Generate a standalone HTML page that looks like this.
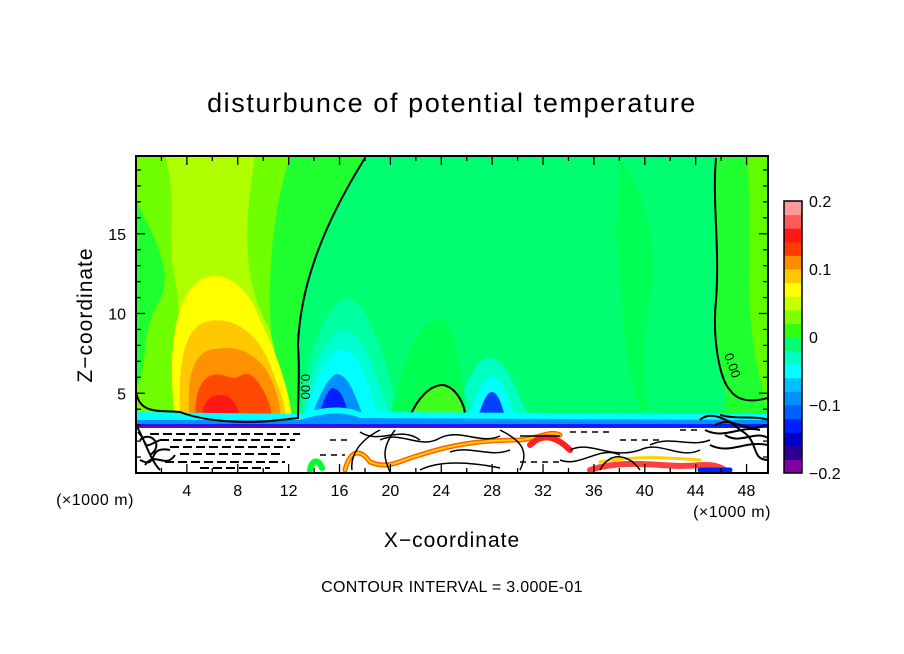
<!DOCTYPE html>
<html><head><meta charset="utf-8"><style>
body{margin:0;background:#fff}
svg{display:block;font-family:"Liberation Sans",sans-serif}
</style></head><body>
<svg id="s" width="904" height="654" xmlns="http://www.w3.org/2000/svg">
<defs><clipPath id="pc"><rect x="136" y="156" width="632" height="317"/></clipPath></defs>
<text x="452" y="112" font-size="27" letter-spacing="1.6" text-anchor="middle">disturbunce of potential temperature</text>
<g clip-path="url(#pc)">
<rect x="136" y="156" width="632" height="317" fill="#00ff70"/>
<path d="M716 156 L768 156 L768 420 L720 420 C735 390 712 360 716 300 C720 250 712 200 716 156Z" fill="#20ff30"/>
<path d="M748 156 L768 156 L768 410 C760 380 745 330 750 250Z" fill="#60ff00"/>
<path d="M620 160 C640 180 660 240 650 300 C645 340 640 380 650 410 L640 410 C620 360 625 300 615 240Z" fill="#00ff55"/>
<path d="M136 156 L365 156 C330 220 300 280 300 340 L298 420 L136 420Z" fill="#20ff30"/>
<path d="M136 156 L290 156 C270 220 262 300 280 420 L136 420 L136 390 C150 360 140 330 160 300 C175 270 150 230 136 200Z" fill="#70ff00"/>
<path d="M165 156 L255 156 C245 220 240 280 270 330 L290 420 L180 420 C170 380 185 330 175 280 C166 240 178 200 165 156Z" fill="#b0ff00"/>
<path d="M175 420 C168 360 172 300 200 280 C225 266 250 290 260 320 C275 350 290 390 292 420Z" fill="#ffff00"/>
<path d="M180 420 C178 370 182 330 205 322 C230 315 255 330 268 360 C278 385 286 405 286 420Z" fill="#ffc800"/>
<path d="M190 420 C186 380 192 355 210 350 C235 345 250 350 265 368 C275 385 282 405 280 420Z" fill="#ff9000"/>
<path d="M196 420 C194 400 198 380 212 375 C225 372 230 382 240 376 C252 368 262 385 270 405 L272 420Z" fill="#ff4800"/>
<path d="M202 420 C202 405 208 395 220 395 C232 395 238 405 240 420Z" fill="#ff1818"/>
<path d="M300 420 C305 360 320 320 340 300 C360 290 380 330 400 420Z" fill="#00ffa0"/>
<path d="M302 420 C310 375 322 340 340 330 C362 325 375 370 392 420Z" fill="#00ffd0"/>
<path d="M305 420 C312 385 325 355 340 350 C360 348 368 385 380 420Z" fill="#00ffff"/>
<path d="M310 420 C318 400 325 380 336 374 C350 374 356 400 365 420Z" fill="#0090ff"/>
<path d="M318 420 C322 405 326 392 332 388 C342 388 346 405 350 420Z" fill="#0020ff"/>
<path d="M455 420 C465 380 478 355 492 358 C508 362 518 395 530 420Z" fill="#00ffc0"/>
<path d="M468 420 C476 396 484 376 492 376 C503 378 509 400 516 420Z" fill="#00ffff"/>
<path d="M477 420 C482 405 486 392 492 392 C498 392 502 405 506 420Z" fill="#0040ff"/>
<path d="M390 420 C400 370 418 318 440 318 C455 320 460 380 470 420Z" fill="#00ff50"/>
<path d="M410 416 C418 398 430 385 443 385 C455 387 465 403 465 416Z" fill="#40ff20" stroke="#000" stroke-width="2"/>
<path d="M136 412 L300 414 C320 408 340 404 360 412 L768 414 L768 430 L136 428Z" fill="#00ffff"/>
<path d="M136 420 L300 420 C320 414 340 410 360 418 L768 420 L768 430 L136 428Z" fill="#0090ff"/>
<path d="M136 424 L768 424 L768 430 L136 428Z" fill="#0020ff"/>
<path d="M136 426 L768 427 L768 430 L136 429Z" fill="#8000a0"/>
<rect x="136" y="428" width="632" height="45" fill="#fff"/>
<g fill="none" stroke-linecap="round">
<path d="M345 470 C350 450 360 448 370 462 C390 470 400 460 420 455 C450 445 480 440 520 440 C540 438 550 430 560 435" stroke="#ff6000" stroke-width="5"/>
<path d="M345 470 C350 450 360 448 370 462 C390 470 400 460 420 455 C450 445 480 440 520 440 C540 438 550 430 560 435" stroke="#ffd000" stroke-width="2"/>
<path d="M530 445 C545 430 560 440 570 450" stroke="#ff2020" stroke-width="6"/>
<path d="M590 470 C620 460 650 465 680 466 C700 466 712 462 725 470" stroke="#ff4040" stroke-width="6"/>
<path d="M600 462 C640 455 670 458 700 460" stroke="#ffd000" stroke-width="3"/>
<path d="M700 470 L730 470" stroke="#0020ff" stroke-width="5"/>
<path d="M310 470 C312 460 318 458 322 468" stroke="#00ff30" stroke-width="6"/>
</g>
<g fill="none" stroke="#000" stroke-width="1.5">
<path d="M136 392 C140 415 160 410 180 412 C200 420 240 425 280 420 L298 418 C298 400 300 370 298 345 C300 290 320 230 365 158" stroke-width="2"/>
<path d="M716 158 C712 200 720 250 716 300 C712 340 720 380 730 390 C740 405 760 400 768 398" stroke-width="2"/>
<path d="M150 434 L300 434 M160 440 L295 440 M170 447 L290 447 M180 454 L280 454 M165 462 L285 462 M200 468 L270 468" stroke-dasharray="9 4" stroke-width="2"/>
<path d="M380 440 C400 430 420 450 440 438 C460 428 480 445 500 436 M520 436 L560 436 M570 450 C590 440 610 460 640 450 C660 440 680 460 700 450 M420 470 C440 460 470 462 500 468 M600 470 C610 450 630 455 640 470 M360 432 C380 445 400 425 420 440 M450 452 C470 445 490 458 510 450 M560 460 C580 468 600 445 620 455 M650 445 C670 435 690 448 710 440" />
<path d="M380 430 C360 440 350 455 352 470 M395 430 C380 450 385 460 390 472 M500 430 C520 440 530 450 520 470" />
<path d="M570 432 L610 432 M620 440 L660 440 M680 430 L700 430 M520 462 L560 462 M330 440 L350 440 M320 455 L345 455" stroke-dasharray="6 5"/>
<path d="M136 425 C145 440 150 460 160 470 M140 440 C150 430 165 445 150 455 M140 460 C160 470 145 445 170 450 M138 432 C150 445 140 450 160 440 M145 465 C155 450 165 470 175 455" stroke-width="2"/>
<path d="M700 420 C710 410 730 420 740 430 C760 440 750 460 768 460 M705 430 C725 440 740 425 760 430 M710 445 C730 455 745 440 768 445 M720 415 C740 420 755 415 768 420 M715 425 C735 415 745 435 765 425 M725 435 C740 445 755 430 768 438" stroke-width="2"/>
</g>
</g>
<rect x="136" y="156" width="632" height="317" fill="none" stroke="#000" stroke-width="2"/>
<text x="301" y="374" font-size="13" transform="rotate(90 301 374)">0.00</text>
<text x="724" y="355" font-size="13" transform="rotate(70 724 355)">0.00</text>
<text x="452" y="547" font-size="21" letter-spacing="1" text-anchor="middle">X−coordinate</text>
<text x="92" y="315" font-size="21" letter-spacing="1" text-anchor="middle" transform="rotate(-90 92 315)">Z−coordinate</text>
<text x="95" y="505" font-size="16" letter-spacing="0.5" text-anchor="middle">(×1000 m)</text>
<text x="732" y="517" font-size="16" letter-spacing="0.5" text-anchor="middle">(×1000 m)</text>
<text x="452" y="592" font-size="16" letter-spacing="0.3" text-anchor="middle">CONTOUR INTERVAL = 3.000E-01</text>
<g id="ax"></g>
<g id="cb"></g>
</svg>
<script>
const xTicks=[4,8,12,16,20,24,28,32,36,40,44,48];
const yTicks=[5,10,15];
const cbLevels=[-0.2,-0.18,-0.16,-0.14,-0.12,-0.1,-0.08,-0.06,-0.04,-0.02,0,0.02,0.04,0.06,0.08,0.1,0.12,0.14,0.16,0.18,0.2];
const cbColors=["#8000a0","#2a0090","#0000c8","#0020ff","#0060ff","#0090ff","#00c0ff","#00ffff","#00ffc0","#00ff70","#00ff40","#30ff10","#80ff00","#c8ff00","#ffff00","#ffc800","#ff8c00","#ff3c00","#ff1818","#ff5a5a","#ff9a9a"];
const cbLabels=[-0.2,-0.1,0,0.1,0.2];
const NS="http://www.w3.org/2000/svg";
const X0=136,XS=12.72,Y0=473,YS=15.95;
const xs=v=>X0+v*XS, ys=v=>Y0-v*YS;
const ax=document.getElementById('ax'),cb=document.getElementById('cb');
function mk(t,a,p){const e=document.createElementNS(NS,t);for(const k in a)e.setAttribute(k,a[k]);p.appendChild(e);return e;}
for(let v=2;v<50;v+=2){const L=(v%4===0)?9:5;
 mk('line',{x1:xs(v),x2:xs(v),y1:473,y2:473-L,stroke:'#000','stroke-width':1.3},ax);
 mk('line',{x1:xs(v),x2:xs(v),y1:156,y2:156+L,stroke:'#000','stroke-width':1.3},ax);}
for(let v=1;v<20;v++){const L=(v%5===0)?9:5;
 mk('line',{x1:136,x2:136+L,y1:ys(v),y2:ys(v),stroke:'#000','stroke-width':1.3},ax);
 mk('line',{x1:768,x2:768-L,y1:ys(v),y2:ys(v),stroke:'#000','stroke-width':1.3},ax);}
xTicks.forEach(v=>{const t=mk('text',{x:xs(v),y:496,'font-size':16,'text-anchor':'middle'},ax);


t.textContent=v;});
yTicks.forEach(v=>{const t=mk('text',{x:126,y:ys(v)+6,'font-size':16,'text-anchor':'end'},ax);


t.textContent=v;});
const CB0=473,CBT=201,cy=v=>CB0-(v-(-0.2))/(0.4)*(CB0-CBT);
const nb=cbLevels.length-1;
for(let i=0;i<nb;i++){const ci=Math.round(i*(cbColors.length-1)/(nb-1));
const r=mk('rect',{x:784,y:cy(cbLevels[i+1]),width:18,height:cy(cbLevels[i])-cy(cbLevels[i+1])+0.5,fill:cbColors[ci]},cb);

}
const fr=mk('rect',{x:784,y:CBT,width:18,height:CB0-CBT,fill:'none',stroke:'#000','stroke-width':1.5},cb);


cbLabels.forEach(v=>{const t=mk('text',{x:809,y:cy(v)+6,'font-size':16},cb);


t.textContent=(v<0?'−':'')+Math.abs(v);});
</script>
</body></html>
